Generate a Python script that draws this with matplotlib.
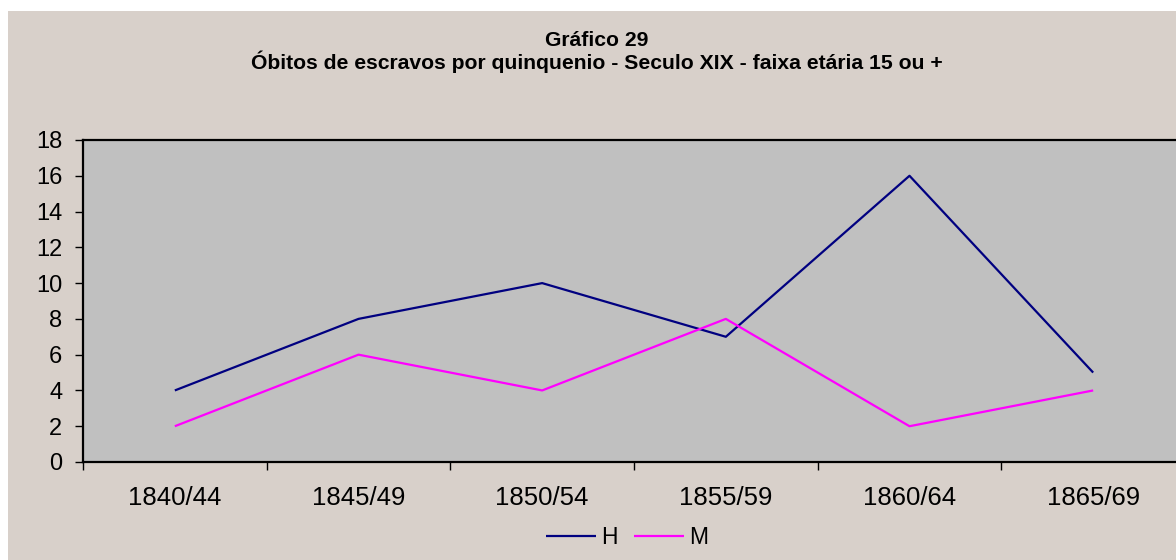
import matplotlib
matplotlib.use("Agg")
import matplotlib.pyplot as plt
from matplotlib.patches import Rectangle
from matplotlib.ticker import FixedLocator, NullFormatter, FixedFormatter

categories = ["1840/44", "1845/49", "1850/54", "1855/59", "1860/64", "1865/69"]
h_values = [4, 8, 10, 7, 16, 5]
m_values = [2, 6, 4, 8, 2, 4]
y_ticks = [0, 2, 4, 6, 8, 10, 12, 14, 16, 18]

plt.rcParams['font.family'] = ['Liberation Sans', 'DejaVu Sans']

W, H = 1176, 560
fig = plt.figure(figsize=(W / 100, H / 100), dpi=100)
bg = "#D8D0CA"
fig.patch.set_facecolor(bg)
# white margins top and left
fig.patches.append(Rectangle((0, (H - 11) / H), 1, 11 / H,
                             transform=fig.transFigure, facecolor="white",
                             edgecolor="none", zorder=0))
fig.patches.append(Rectangle((0, 0), 8 / W, 1,
                             transform=fig.transFigure, facecolor="white",
                             edgecolor="none", zorder=0))

left_px, right_px, top_px, bottom_px = 83, 1185, 140, 462
ax = fig.add_axes([left_px / W, (H - bottom_px) / H,
                   (right_px - left_px) / W, (bottom_px - top_px) / H])
ax.set_zorder(2)
ax.set_facecolor("#C0C0C0")

x = list(range(len(categories)))
ax.plot(x, h_values, color="#000080", lw=1.6, label="H", solid_capstyle="butt")
ax.plot(x, m_values, color="#FF00FF", lw=1.6, label="M", solid_capstyle="butt")

ax.set_xlim(-0.5, len(categories) - 0.5)
ax.set_ylim(0, 18)
ax.set_yticks(y_ticks)
ax.tick_params(axis="y", labelsize=17, length=6, width=1, pad=9, direction="out")

ax.xaxis.set_major_locator(FixedLocator([i - 0.5 for i in range(len(categories) + 1)]))
ax.xaxis.set_major_formatter(NullFormatter())
ax.xaxis.set_minor_locator(FixedLocator(x))
ax.xaxis.set_minor_formatter(FixedFormatter(categories))
ax.tick_params(axis="x", which="major", length=6, width=1, direction="out")
ax.tick_params(axis="x", which="minor", length=0, labelsize=18.5, pad=17)

for s in ["top", "left", "bottom"]:
    ax.spines[s].set_color("black")
    ax.spines[s].set_linewidth(1.6)
ax.spines["right"].set_visible(False)

fig.text(597 / W, 1 - 41 / H, "Gráfico 29", ha="center", va="center",
         fontsize=15.2, fontweight="bold")
fig.text(597 / W, 1 - 62 / H,
         "Óbitos de escravos por quinquenio - Seculo XIX - faixa etária 15 ou +",
         ha="center", va="center", fontsize=15.2, fontweight="bold")

fig.legend(loc="center", bbox_to_anchor=(627 / W, 1 - 538 / H), ncol=2,
           frameon=False, fontsize=16.5, handlelength=2.18, handletextpad=0.22,
           columnspacing=0.7, borderpad=0)

fig.savefig("out.png", dpi=100, facecolor=fig.get_facecolor())
